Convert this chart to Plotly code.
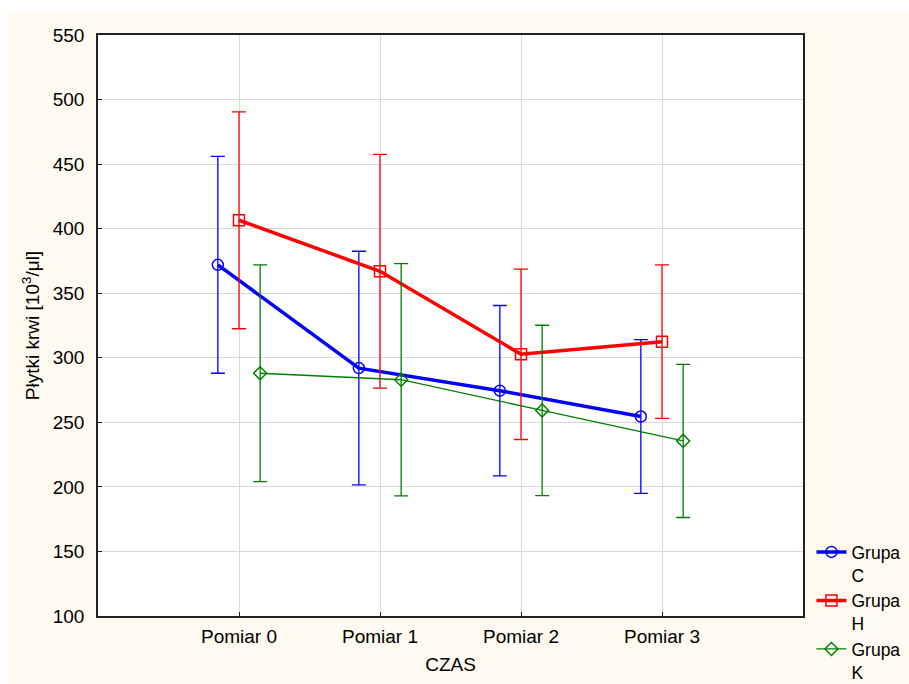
import plotly.graph_objects as go

# Measurement points (x axis categories)
timepoints = ["Pomiar 0", "Pomiar 1", "Pomiar 2", "Pomiar 3"]

# Group means of platelet count [10^3/ul]
mean_c = [372.0, 292.0, 274.5, 254.5]
mean_h = [406.5, 367.0, 302.7, 312.5]
mean_k = [288.0, 283.0, 259.2, 235.6]

# Half-widths of the confidence intervals at each time point
ci_c = [84.0, 90.5, 66.0, 59.5]
ci_h = [84.0, 90.5, 66.0, 59.5]
ci_k = [84.0, 90.0, 66.0, 59.3]

group_names = ["Grupa<br>C", "Grupa<br>H", "Grupa<br>K"]

y_ticks = [100, 150, 200, 250, 300, 350, 400, 450, 500, 550]

FONT = "Liberation Sans, Arial, sans-serif"
CREAM = "#fefaf0"

series = [
    dict(name=group_names[0], y=mean_c, err=ci_c, color="#0000ff", shift=-0.15,
         symbol="circle-open", size=11, lw=3.5),
    dict(name=group_names[1], y=mean_h, err=ci_h, color="#ff0000", shift=0.0,
         symbol="square-open", size=11, lw=3.5),
    dict(name=group_names[2], y=mean_k, err=ci_k, color="#008000", shift=0.15,
         symbol="diamond-open", size=10, lw=1.3),
]

fig = go.Figure()
for s in series:
    xs = [i + s["shift"] for i in range(len(timepoints))]
    fig.add_trace(go.Scatter(
        x=xs, y=s["y"], name=s["name"], mode="lines+markers",
        line=dict(color=s["color"], width=s["lw"]),
        marker=dict(symbol=s["symbol"], size=s["size"], color=s["color"],
                    line=dict(color=s["color"], width=1.5)),
        error_y=dict(type="data", array=s["err"], visible=True,
                     color=s["color"], thickness=1.3, width=7),
    ))

fig.update_xaxes(
    range=[-1, 4],
    tickmode="array", tickvals=list(range(len(timepoints))), ticktext=timepoints,
    showgrid=True, gridcolor="#d9d9d9", gridwidth=1,
    showline=True, linecolor="#222222", linewidth=1.5, mirror=True,
    ticks="inside", ticklen=4, tickcolor="#222222",
    tickfont=dict(family=FONT, size=19, color="#000"),
    ticklabelstandoff=2,
    zeroline=False,
    title=dict(text="CZAS", font=dict(family=FONT, size=19, color="#000"), standoff=12),
)
fig.update_yaxes(
    range=[100, 550],
    tickmode="array", tickvals=y_ticks,
    showgrid=True, gridcolor="#d9d9d9", gridwidth=1,
    showline=True, linecolor="#222222", linewidth=1.5, mirror=True,
    ticks="inside", ticklen=4, tickcolor="#222222",
    tickfont=dict(family=FONT, size=19, color="#000"),
    ticklabelstandoff=8,
    zeroline=False,
    title=dict(text="Płytki krwi [10<sup>3</sup>/μl]",
               font=dict(family=FONT, size=19, color="#000"), standoff=8),
)

# White margin strips along the top and left edges of the page
fig.add_shape(type="rect", xref="paper", yref="paper", layer="below",
              x0=-0.2, x1=-90 / 705, y0=-0.2, y1=1.2,
              fillcolor="white", line=dict(width=0))
fig.add_shape(type="rect", xref="paper", yref="paper", layer="below",
              x0=-0.2, x1=1.3, y0=1.0396, y1=1.2,
              fillcolor="white", line=dict(width=0))

fig.update_layout(
    width=909, height=684,
    margin=dict(l=98, r=106, t=35, b=68, autoexpand=False),
    paper_bgcolor=CREAM, plot_bgcolor="white",
    font=dict(family=FONT, size=19, color="#000"),
    showlegend=True,
    legend=dict(x=1.012, xanchor="left", y=0.141, yanchor="top",
                bgcolor="rgba(0,0,0,0)", valign="top",
                font=dict(family=FONT, size=17.5, color="#000"),
                tracegroupgap=0, itemwidth=30),
)

fig.write_html("out.html")
